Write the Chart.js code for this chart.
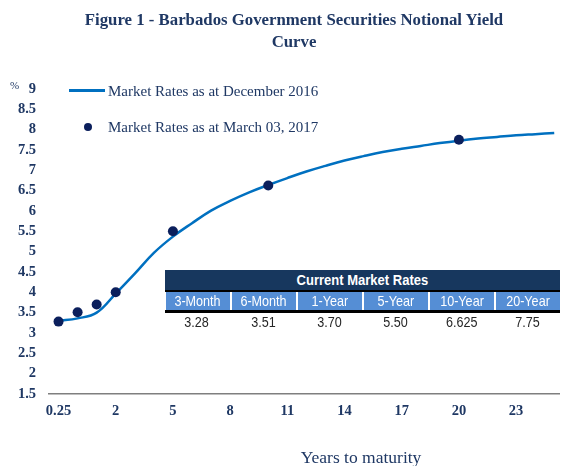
<!DOCTYPE html>
<html>
<head>
<meta charset="utf-8">
<script src="https://cdn.jsdelivr.net/npm/chart.js@4.4.1/dist/chart.umd.min.js"></script>
<style>
  html, body { margin: 0; padding: 0; background: #fff; }
  #wrap { position: relative; width: 564px; height: 466px; overflow: hidden; }
  #chart { position: absolute; left: 0; top: 0; }
  .serif { font-family: 'Liberation Serif', 'Times New Roman', serif; color: #1f3864; }
  .abs { position: absolute; white-space: nowrap; }
  .tbl { font-family: 'Liberation Sans', Arial, sans-serif; }
  .nar { display: inline-block; transform: scaleX(0.84); }
</style>
</head>
<body>
<div id="wrap">
  <canvas id="chart" width="564" height="466"></canvas>

  <div class="abs serif" style="left:0;top:9px;width:588px;text-align:center;font-weight:bold;font-size:16.8px;line-height:22px;">
    Figure 1 - Barbados Government Securities Notional Yield<br>Curve
  </div>

  <div class="abs serif" style="left:10px;top:78px;font-size:11px;line-height:14px;">%</div>

  <!-- legend -->
  <div class="abs" style="left:69px;top:89.3px;width:36px;height:2.5px;background:#0070c0;"></div>
  <div class="abs serif" id="leg1" style="left:108px;top:81.5px;font-size:15px;line-height:18px;"></div>
  <div class="abs" style="left:84px;top:123px;width:8px;height:8px;border-radius:50%;background:#0b1f5c;"></div>
  <div class="abs serif" id="leg2" style="left:108px;top:118px;font-size:15px;line-height:18px;"></div>

  <div class="abs serif" style="left:261px;top:446px;width:200px;text-align:center;font-size:17.5px;line-height:22px;">Years to maturity</div>

  <div id="table" class="abs tbl" style="left:165px;top:270px;width:395px;"></div>
</div>

<script>
// ---- data ----
const years = ['0.25', '0.5', '1', '2', '3', '4', '5', '6', '7', '8', '9', '10', '11', '12', '13',
  '14', '15', '16', '17', '18', '19', '20', '21', '22', '23', '24', '25'];
const xTickLabels = ['0.25', '2', '5', '8', '11', '14', '17', '20', '23'];

// Market Rates as at December 2016 (one value per entry of years)
const dec2016 = [3.30, 3.36, 3.50, 3.97, 4.46, 4.97, 5.37, 5.70, 6.01, 6.25, 6.46, 6.64, 6.81, 6.97,
  7.11, 7.24, 7.35, 7.45, 7.53, 7.60, 7.67, 7.73, 7.78, 7.82, 7.86, 7.89, 7.92];

// Market Rates as at March 03, 2017
const marchTenors = ['0.25', '0.5', '1', '2', '5', '10', '20'];
const march2017 = [3.28, 3.51, 3.70, 4.00, 5.50, 6.625, 7.75];

// Current Market Rates table
const tableHeads = ['3-Month', '6-Month', '1-Year', '5-Year', '10-Year', '20-Year'];
const tableRates = ['3.28', '3.51', '3.70', '5.50', '6.625', '7.75'];

const seriesNames = ['Market Rates as at December 2016', 'Market Rates as at March 03, 2017'];

// ---- overlay text ----
document.getElementById('leg1').textContent = seriesNames[0];
document.getElementById('leg2').textContent = seriesNames[1];

const cells = tableHeads.map(h => `<div style="flex:1;background:#558ed5;color:#fff;text-align:center;font-size:15px;line-height:18px;"><span class="nar">${h}</span></div>`).join('');
const vals = tableRates.map(v => `<div style="flex:1;color:#262626;text-align:center;font-size:15px;line-height:18px;"><span class="nar">${v}</span></div>`).join('');
document.getElementById('table').innerHTML = `
  <div style="height:19.5px;background:#17375e;color:#fff;font-weight:bold;text-align:center;font-size:15.5px;line-height:20px;"><span class="nar">Current Market Rates</span></div>
  <div style="height:2.5px;background:#000;"></div>
  <div style="display:flex;gap:2px;height:18px;padding-left:1px;">${cells}</div>
  <div style="height:2.5px;background:#000;"></div>
  <div style="display:flex;gap:2px;padding-top:0.5px;">${vals}</div>`;

// ---- chart ----
const navy = '#1f3864';
const tickFont = { family: "'Liberation Serif', 'Times New Roman', serif", size: 14.5, weight: 'bold' };

new Chart(document.getElementById('chart'), {
  type: 'line',
  data: {
    datasets: [{
      label: seriesNames[1],
      data: marchTenors.map((t, i) => ({ x: years.indexOf(t), y: march2017[i] })),
      showLine: false,
      pointRadius: 5,
      pointBackgroundColor: '#0b1f5c',
      pointBorderWidth: 0,
      order: 0
    }, {
      label: seriesNames[0],
      data: dec2016.map((v, i) => ({ x: i, y: v })),
      borderColor: '#0070c0',
      borderWidth: 2.5,
      pointRadius: 0,
      tension: 0.4,
      order: 1
    }]
  },
  options: {
    responsive: false,
    animation: false,
    layout: { padding: { top: 89, right: 1, bottom: 0, left: 0 } },
    plugins: { legend: { display: false }, tooltip: { enabled: false } },
    scales: {
      x: {
        type: 'linear',
        min: -0.5,
        max: 26.25,
        grid: { display: false, drawTicks: false },
        border: { display: true, color: '#7f7f7f', width: 1.5 },
        afterBuildTicks: axis => { axis.ticks = xTickLabels.map(l => ({ value: years.indexOf(l) })); },
        afterFit: s => { s.height = 72; },
        ticks: {
          color: navy,
          font: tickFont,
          padding: 9,
          maxRotation: 0,
          autoSkip: false,
          callback: v => years[v]
        }
      },
      y: {
        min: 1.5,
        max: 9,
        grid: { display: false, drawTicks: false },
        border: { display: false },
        afterFit: s => { s.width = 49; },
        ticks: {
          stepSize: 0.5,
          autoSkip: false,
          color: navy,
          font: tickFont,
          padding: 13,
          callback: v => String(v)
        }
      }
    }
  }
});
</script>
</body>
</html>
